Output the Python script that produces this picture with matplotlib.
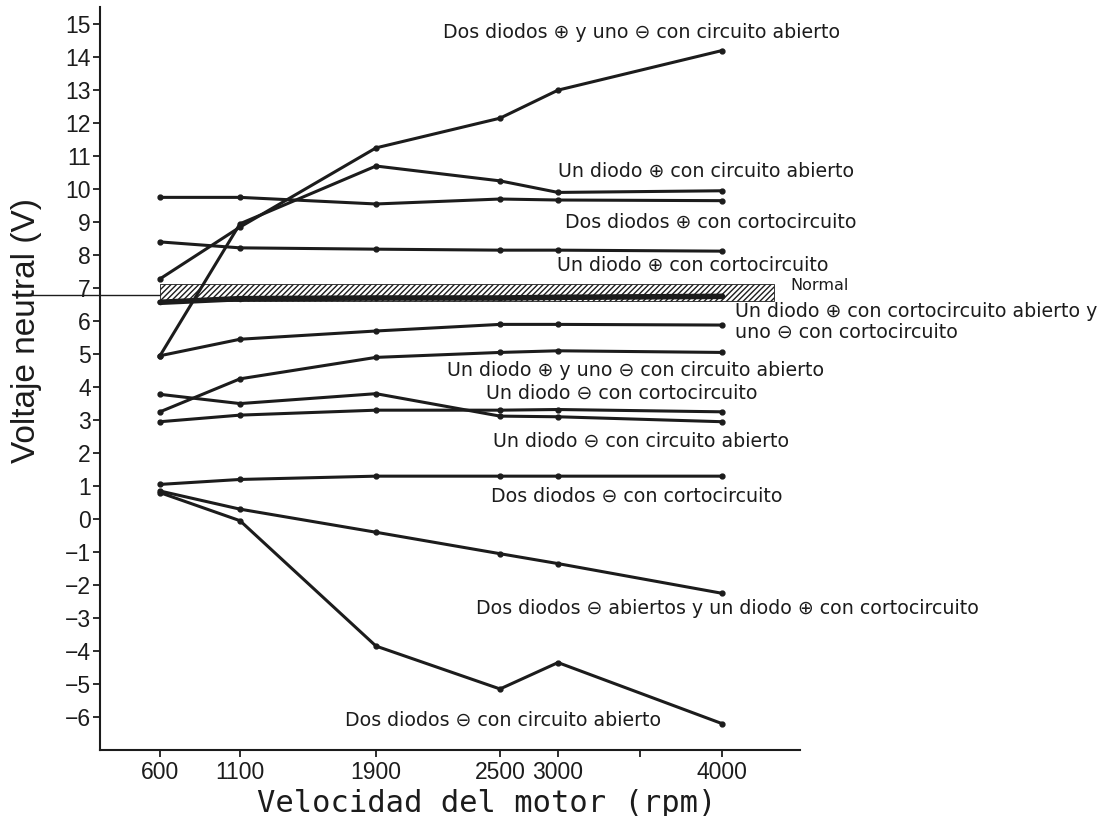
import numpy as np
import matplotlib
matplotlib.use("Agg")
import matplotlib.pyplot as plt
import matplotlib.transforms as mtransforms
from matplotlib.patches import Rectangle

# ---------------- data ----------------
rpm = [600, 1100, 1900, 2500, 3000, 4000]
x_tick_values = [600, 1100, 1900, 2500, 3000, 3500, 4000]
x_tick_labels = ["600", "1100", "1900", "2500", "3000", "", "4000"]
y_tick_values = list(range(-6, 16))

dos_pos_uno_neg_abierto = [7.28, 8.85, 11.25, 12.15, 13.0, 14.2]
un_pos_abierto = [4.95, 8.95, 10.7, 10.25, 9.9, 9.95]
dos_pos_corto = [9.75, 9.75, 9.55, 9.7, 9.67, 9.65]
un_pos_corto = [8.4, 8.22, 8.18, 8.15, 8.15, 8.12]
normal_line = [6.57, 6.68, 6.7, 6.7, 6.72, 6.75]
un_pos_cabierto_neg_corto = [4.95, 5.45, 5.7, 5.9, 5.9, 5.88]
un_pos_neg_abierto = [3.25, 4.25, 4.9, 5.05, 5.1, 5.05]
un_neg_corto = [3.78, 3.5, 3.8, 3.12, 3.1, 2.95]
un_neg_abierto = [2.95, 3.15, 3.3, 3.3, 3.32, 3.25]
dos_neg_corto = [1.05, 1.2, 1.3, 1.3, 1.3, 1.3]
dos_neg_abiertos_pos_corto = [0.85, 0.3, -0.4, -1.05, -1.35, -2.25]
dos_neg_abierto = [0.8, -0.05, -3.85, -5.15, -4.35, -6.2]

series = [dos_pos_uno_neg_abierto, un_pos_abierto, dos_pos_corto, un_pos_corto,
          un_pos_cabierto_neg_corto, un_pos_neg_abierto, un_neg_corto,
          un_neg_abierto, dos_neg_corto, dos_neg_abiertos_pos_corto, dos_neg_abierto]

normal_band = (6.62, 7.12)
normal_band_end_rpm = 4320
pointer_level = 6.8

labels = [
    ("Dos diodos ⊕ y uno ⊖ con circuito abierto", 443, 33),
    ("Un diodo ⊕ con circuito abierto", 558, 171),
    ("Dos diodos ⊕ con cortocircuito", 565, 222),
    ("Un diodo ⊕ con cortocircuito", 557, 265),
    ("Un diodo ⊕ con cortocircuito abierto y\nuno ⊖ con cortocircuito", 735, 322),
    ("Un diodo ⊕ y uno ⊖ con circuito abierto", 447, 371),
    ("Un diodo ⊖ con cortocircuito", 486, 393),
    ("Un diodo ⊖ con circuito abierto", 493, 441),
    ("Dos diodos ⊖ con cortocircuito", 491, 496),
    ("Dos diodos ⊖ abiertos y un diodo ⊕ con cortocircuito", 476, 609),
    ("Dos diodos ⊖ con circuito abierto", 345, 720),
]
normal_label = ("Normal", 790, 285)

# ---------------- layout ----------------
W, H = 1105, 816
AX_L, AX_R, AX_B, AX_T = 100, 800, 750, 7
fig = plt.figure(figsize=(W / 100, H / 100), dpi=100)
fig.patch.set_facecolor("white")
ax = fig.add_axes([AX_L / W, 1 - AX_B / H, (AX_R - AX_L) / W, (AX_B - AX_T) / H])

def axfrac(px, py):
    return (px - AX_L) / (AX_R - AX_L), (AX_B - py) / (AX_B - AX_T)

# uneven x axis as drawn in the original
anchor_rpm = np.array([0, 600, 1100, 1900, 2500, 3000, 4000, 6000], dtype=float)
anchor_pos = np.array([64, 160, 240, 376, 500, 558, 722, 1050], dtype=float)
fwd = lambda r: np.interp(r, anchor_rpm, anchor_pos)
inv = lambda p: np.interp(p, anchor_pos, anchor_rpm)
ax.set_xscale("function", functions=(fwd, inv))
ax.set_xlim(float(inv(AX_L)), float(inv(AX_R)))
ax.set_ylim(-7.0, 15.52)

ink = "#1c1c1c"
plt.rcParams["hatch.linewidth"] = 1.0

# normal band
band = Rectangle((600, normal_band[0]), normal_band_end_rpm - 600,
                 normal_band[1] - normal_band[0], facecolor="white",
                 edgecolor=ink, hatch="//////", linewidth=0.6, zorder=2)
ax.add_patch(band)

# pointer line crossing the y axis
blend = mtransforms.blended_transform_factory(ax.transAxes, ax.transData)
ax.plot([axfrac(18, 0)[0], axfrac(160, 0)[0]],
        [pointer_level, pointer_level], color=ink, lw=1.0,
        transform=blend, clip_on=False, zorder=3)

ax.plot(rpm, normal_line, color=ink, lw=4.0, marker="o", ms=3, zorder=3,
        solid_capstyle="round")
for s in series:
    ax.plot(rpm, s, color=ink, lw=2.2, marker="o", ms=3.5, zorder=4,
            solid_joinstyle="round")

# spines / ticks
for sp in ["top", "right"]:
    ax.spines[sp].set_visible(False)
for sp in ["left", "bottom"]:
    ax.spines[sp].set_linewidth(1.5)
    ax.spines[sp].set_color(ink)
ax.set_xticks(x_tick_values)
ax.set_xticklabels(x_tick_labels)
ax.set_yticks(y_tick_values)
ax.set_yticklabels([str(v).replace("-", "\u2212") for v in y_tick_values])
ax.tick_params(direction="out", length=5, width=1.3, colors=ink, labelsize=16.5, pad=1.5)
ax.tick_params(axis="x", pad=3)
for t in ax.get_xticklabels() + ax.get_yticklabels():
    t.set_fontfamily("Liberation Sans")

ax.set_xlabel("Velocidad del motor (rpm)", fontfamily="DejaVu Sans Mono",
              fontsize=22, color=ink)
ax.xaxis.set_label_coords(*axfrac(487, 803))
ax.xaxis.label.set_va("center")
ax.set_ylabel("Voltaje neutral (V)", fontfamily="Liberation Sans",
              fontsize=24, color=ink)
ax.yaxis.set_label_coords(*axfrac(27, 331))
ax.yaxis.label.set_va("center")

for text, px, py in labels:
    ax.text(*axfrac(px, py), text, transform=ax.transAxes, ha="left", va="center",
            fontsize=13.7, fontfamily="DejaVu Sans", color=ink, linespacing=1.15)
ax.text(*axfrac(normal_label[1], normal_label[2]), normal_label[0],
        transform=ax.transAxes, ha="left", va="center", fontsize=11.5,
        fontfamily="DejaVu Sans", color=ink)

fig.savefig("out.png", dpi=100, facecolor="white")
